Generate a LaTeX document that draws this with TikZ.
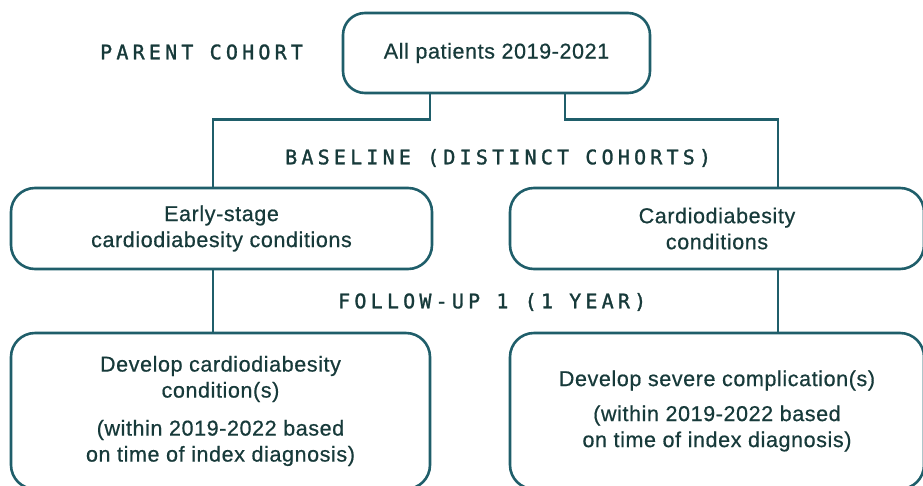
\documentclass[tikz,border=0pt]{standalone}
\usepackage{fontspec}
\usepackage{xcolor}
\usepackage{tikz}
\usetikzlibrary{positioning}
\setmainfont[LetterSpace=2.8, FakeBold=0.6]{Liberation Sans}
\newfontfamily\stagefont[LetterSpace=21, FakeBold=1.4]{DejaVu Sans Mono}
\definecolor{cohortteal}{HTML}{1F5E6A}
\definecolor{cohortink}{HTML}{173A3A}

\begin{document}
\begin{tikzpicture}[x=1pt, y=-1pt,
    cohort/.style={draw=cohortteal, line width=2.6pt, rounded corners=#1, fill=white,
                   align=center, text=cohortink, inner sep=0pt,
                   font=\fontsize{21.5}{26}\selectfont},
    cohort/.default=24pt,
    stage/.style={anchor=west, text=cohortink, inner sep=0pt,
                  font=\stagefont\fontsize{20}{24}\selectfont},
    link/.style={draw=cohortteal, line width=2.6pt},
]
    \clip (0,0) rectangle (923,485);
    \fill[white] (0,0) rectangle (923,485);

    % boxes
    \node[cohort=22pt, minimum width=307pt, minimum height=80pt] (all) at (496.5,53) {All patients 2019-2021};
    \node[cohort, minimum width=421pt, minimum height=81pt] (early) at (221.5,228.5)
        {Early-stage\\cardiodiabesity conditions};
    \node[cohort, minimum width=414pt, minimum height=81pt] (cardio) at (717,228.5)
        {Cardiodiabesity\\conditions};
    \node[cohort, minimum width=419pt, minimum height=156pt] (develop) at (220.5,411)
        {Develop cardiodiabesity\\condition(s)\\[12pt](within 2019-2022 based\\on time of index diagnosis)};
    \node[cohort, minimum width=414pt, minimum height=156pt] (severe) at (717,411)
        {Develop severe complication(s)\\[9pt](within 2019-2022 based\\on time of index diagnosis)};

    % connectors
    \draw[link] ([xshift=-66.5pt]all.south) -- ++(0,25) -| ([xshift=-8.5pt]early.north);
    \draw[link] ([xshift=68.5pt]all.south) -- ++(0,25) -| ([xshift=61pt]cardio.north);
    \draw[link] ([xshift=-8.5pt]early.south) -- ([xshift=-8.5pt]early.south |- develop.north);
    \draw[link] ([xshift=61pt]cardio.south) -- ([xshift=61pt]cardio.south |- severe.north);

    % stage labels
    \node[stage] (parent) at (100,52) {PARENT COHORT};
    \node[stage] (baseline) at (285,158) {BASELINE (DISTINCT COHORTS)};
    \node[stage] (followup) at (338,302) {FOLLOW-UP 1 (1 YEAR)};
\end{tikzpicture}
\end{document}
